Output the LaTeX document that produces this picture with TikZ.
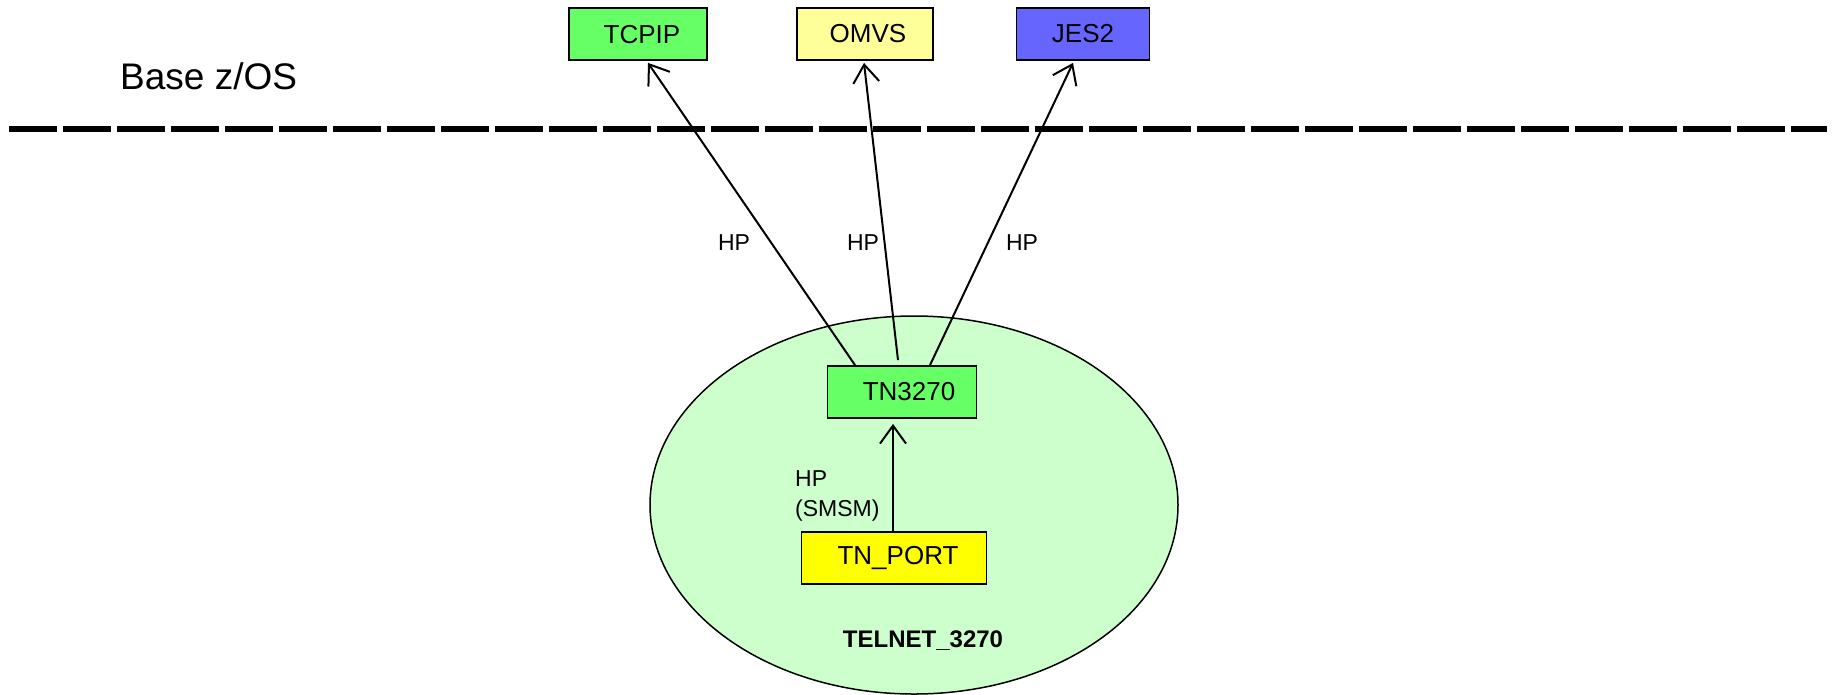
\documentclass[tikz,border=0pt]{standalone}
\usepackage{fontspec}
\setmainfont{Liberation Sans}
\usetikzlibrary{arrows.meta,shapes.geometric}
\definecolor{cgreen}{HTML}{66FF66}
\definecolor{cpale}{HTML}{FFFF99}
\definecolor{cblue}{HTML}{6666FF}
\definecolor{cyel}{HTML}{FFFF00}
\definecolor{cell}{HTML}{CCFFCC}
\tikzset{
  box/.style={draw=black, line width=1.8pt, minimum height=52pt, inner sep=0pt, font=\fontsize{26}{30}\selectfont},
  conn/.style={line width=2pt, -{Straight Barb[length=18pt,width=26pt,line width=2pt]}},
  lbl/.style={font=\fontsize{23}{28}\selectfont, inner sep=0pt},
}
\begin{document}
\begin{tikzpicture}[x=1pt,y=-1pt]
\useasboundingbox (0,0) rectangle (1833,694);
\fill[white] (0,0) rectangle (1833,694);
% ellipse
\node[ellipse, draw=black, line width=1.5pt, fill=cell, minimum width=528pt, minimum height=378pt, inner sep=0pt] (tel) at (914,505) {};
% top boxes
\node[box, fill=cgreen, minimum width=138pt, text depth=0pt] (tcpip) at (638,34) {\hspace*{8pt}TCPIP};
\node[box, fill=cpale, minimum width=136pt] (omvs) at (865,34) {\hspace*{6pt}OMVS};
\node[box, fill=cblue, minimum width=133pt] (jes) at (1083,34) {JES2};
% base z/OS
\node[font=\fontsize{37}{44}\selectfont, anchor=west, inner sep=0pt] (base) at (120,76) {Base z/OS};
% dashed line
\coordinate (dl) at (9,129);
\coordinate (dr) at (1827,129);
\draw[line width=6.5pt, dash pattern=on 48pt off 6pt] (dl) -- (dr);
% inner boxes
\node[box, fill=cgreen, minimum width=149pt] (tn) at (902,392) {\hspace*{14pt}TN3270};
\node[box, fill=cyel, minimum width=185pt] (port) at (894,558) {\hspace*{8pt}TN\_PORT};
% connectors
\draw[conn] ([xshift=-47pt]tn.north) -- ([xshift=10pt,yshift=-2pt]tcpip.south);
\draw[conn] ([xshift=-4pt,yshift=5pt]tn.north) -- ([xshift=-1pt,yshift=-2pt]omvs.south);
\draw[conn] ([xshift=28pt]tn.north) -- ([xshift=-10pt,yshift=-2pt]jes.south);
\draw[conn] ([xshift=-1pt]port.north) -- ([xshift=-9pt,yshift=-5pt]tn.south);
% labels
\node[lbl] (l1) at (734,243) {HP};
\node[lbl] (l2) at (863,243) {HP};
\node[lbl] (l3) at (1022,243) {HP};
\node[lbl, anchor=north west, align=left, font=\fontsize{23}{30}\selectfont] (l4) at (795,470) {HP\\(SMSM)};
\node[lbl, font=\bfseries\fontsize{24}{28}\selectfont] (tl) at (923,641) {TELNET\_3270};
\end{tikzpicture}
\end{document}
